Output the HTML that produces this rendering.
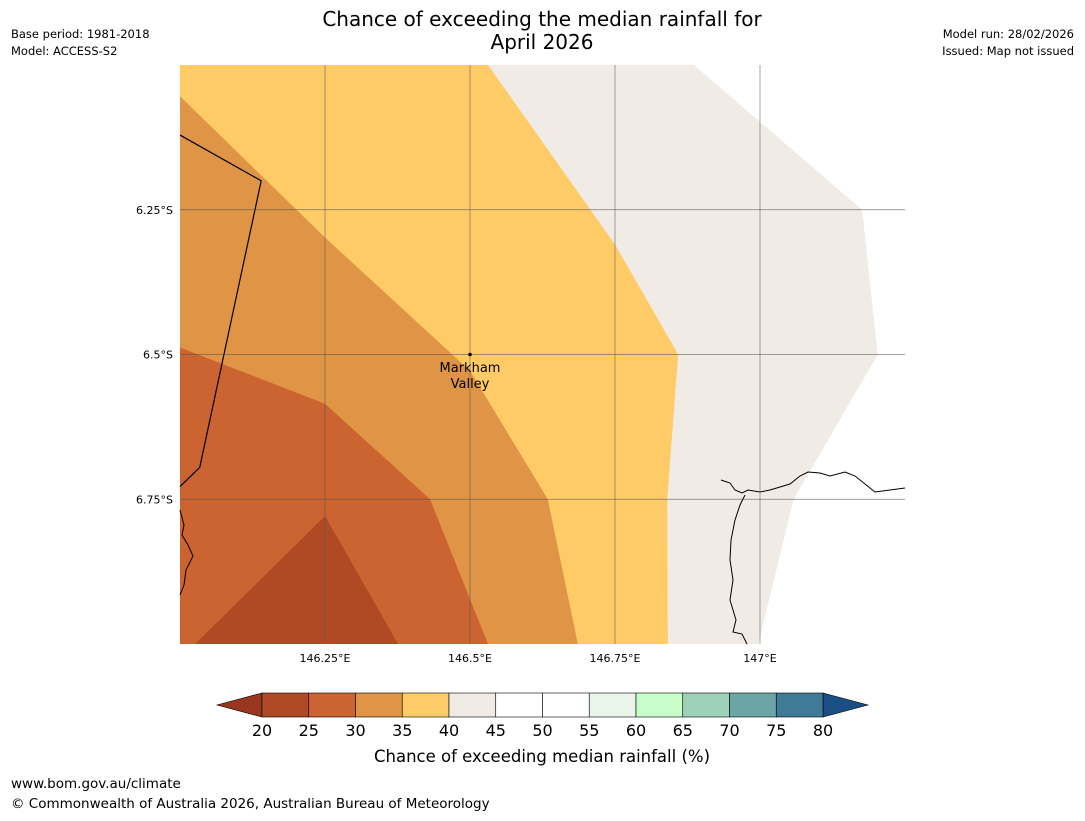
<!DOCTYPE html>
<html><head><meta charset="utf-8"><style>
body{margin:0;background:#fff;width:1085px;height:816px;overflow:hidden;font-family:"Liberation Sans","DejaVu Sans",sans-serif}
svg text{font-family:"DejaVu Sans","Liberation Sans",sans-serif}
</style></head><body>
<svg id="chart" width="1085" height="816" xmlns="http://www.w3.org/2000/svg">
<text x="542" y="26" font-size="20" text-anchor="middle">Chance of exceeding the median rainfall for</text>
<text x="542" y="49" font-size="20" text-anchor="middle">April 2026</text>
<text x="11" y="38" font-size="11.5">Base period: 1981-2018</text>
<text x="11" y="55" font-size="11.5">Model: ACCESS-S2</text>
<text x="1074" y="38" font-size="11.5" text-anchor="end">Model run: 28/02/2026</text>
<text x="1074" y="55" font-size="11.5" text-anchor="end">Issued: Map not issued</text>
<g id="map"></g>
<g id="cbar"></g>
<text x="542" y="762" font-size="16.5" text-anchor="middle">Chance of exceeding median rainfall (%)</text>
<text x="11" y="788" font-size="13.5">www.bom.gov.au/climate</text>
<text x="11" y="808" font-size="13.5">© Commonwealth of Australia 2026, Australian Bureau of Meteorology</text>
</svg>
<script>
const lonTicks=[146.25,146.5,146.75,147];
const lonLabels=["146.25°E","146.5°E","146.75°E","147°E"];
const latTicks=[6.25,6.5,6.75];
const latLabels=["6.25°S","6.5°S","6.75°S"];
const beigeZone=[[146.0,6.0],[146.886,6.0],[147.176,6.25],[147.203,6.5],[147.058,6.75],[146.997,7.0],[146.0,7.0]];
const yellowZone=[[146.0,6.0],[146.531,6.0],[146.75,6.31],[146.859,6.5],[146.84,6.75],[146.841,7.0],[146.0,7.0]];
const orangeZone=[[146.0,6.054],[146.25,6.298],[146.5,6.528],[146.634,6.75],[146.686,7.0],[146.0,7.0]];
const redZone=[[146.0,6.488],[146.25,6.585],[146.431,6.75],[146.531,7.0],[146.0,7.0]];
const darkZone=[[146.026,7.0],[146.25,6.779],[146.376,7.0]];
const zoneColors=["#f0ebe5","#fecb67","#e09445","#cb6430","#b04a24"];
const border=[[146.0,6.121],[146.14,6.2],[146.034,6.695],[146.0,6.728]];
const bins=[20,25,30,35,40,45,50,55,60,65,70,75,80];
const binColors=["#b04a24","#cb6430","#e09445","#fecb67","#f0ebe5","#ffffff","#ffffff","#e9f5e9","#c8fcc8","#9dd1b8","#6ba5a6","#3f7a96"];
const NS="http://www.w3.org/2000/svg";
const X0=180,X1=905,Y0=65,Y1=644,lonMin=146,lonMax=147.25,latMin=6,latMax=7;
const x=l=>X0+(l-lonMin)/(lonMax-lonMin)*(X1-X0);
const y=l=>Y0+(l-latMin)/(latMax-latMin)*(Y1-Y0);
function mk(t,a,p){const e=document.createElementNS(NS,t);for(const k in a)e.setAttribute(k,a[k]);p.appendChild(e);return e;}
const map=document.getElementById('map');
const pts=a=>a.map(p=>x(p[0])+','+y(p[1])).join(' ');
[beigeZone,yellowZone,orangeZone,redZone,darkZone].forEach((z,i)=>{
 const p=mk('polygon',{points:pts(z),fill:zoneColors[i]},map);
 
 
});
const b=mk('polyline',{points:pts(border),fill:'none',stroke:'#000','stroke-width':1.2},map);


const coast=mk('path',{d:'M721,480 L730,483 L735,490 L742,493 L748,490 L760,492 L770,490 L790,484 L800,476 L808,472 L820,473 L830,476 L845,472 L855,476 L865,484 L875,492 L890,490 L905,488 M745,495 L740,505 L735,520 L731,540 L730,560 L733,580 L730,600 L736,620 L733,632 L742,634 L747,644 M180,510 L184,525 L182,535 L188,545 L193,556 L186,570 L184,585 L180,595',fill:'none',stroke:'#000','stroke-width':1},map);


lonTicks.forEach((t,i)=>{
 const l=mk('line',{x1:x(t),x2:x(t),y1:Y0,y2:Y1,stroke:'#555','stroke-width':0.7,opacity:0.75},map);
 
 
 const tx=mk('text',{x:x(t),y:Y1+18,'font-size':11,'text-anchor':'middle'},map);tx.textContent=lonLabels[i];
 
 
});
latTicks.forEach((t,i)=>{
 const l=mk('line',{x1:X0,x2:X1,y1:y(t),y2:y(t),stroke:'#555','stroke-width':0.7,opacity:0.75},map);
 
 
 const tx=mk('text',{x:X0-7,y:y(t)+4,'font-size':11,'text-anchor':'end'},map);tx.textContent=latLabels[i];
 
 
});
const dot=mk('circle',{cx:x(146.5),cy:y(6.5),r:1.8,fill:'#000'},map);


[["Markham",372],["Valley",388]].forEach(s=>{const t=mk('text',{x:470,y:s[1],'font-size':13,'text-anchor':'middle'},map);t.textContent=s[0];
 
 });
const cb=document.getElementById('cbar');
const CX0=262,CX1=823,CY=693,CH=24;
const cx=v=>CX0+(v-bins[0])/(bins[bins.length-1]-bins[0])*(CX1-CX0);
mk('polygon',{points:`${CX0},${CY} ${CX0},${CY+CH} 217,${CY+CH/2}`,fill:'#983620',stroke:'#000','stroke-width':0.6},cb);
mk('polygon',{points:`${CX1},${CY} ${CX1},${CY+CH} 868,${CY+CH/2}`,fill:'#1a4f86',stroke:'#000','stroke-width':0.6},cb);
binColors.forEach((c,i)=>{
 const r=mk('rect',{x:cx(bins[i]),y:CY,width:cx(bins[i+1])-cx(bins[i]),height:CH,fill:c,stroke:'#000','stroke-width':0.6},cb);
 
 
});
bins.forEach(v=>{const t=mk('text',{x:cx(v),y:736,'font-size':16,'text-anchor':'middle'},cb);t.textContent=v;
 
 });
</script>
</body></html>
